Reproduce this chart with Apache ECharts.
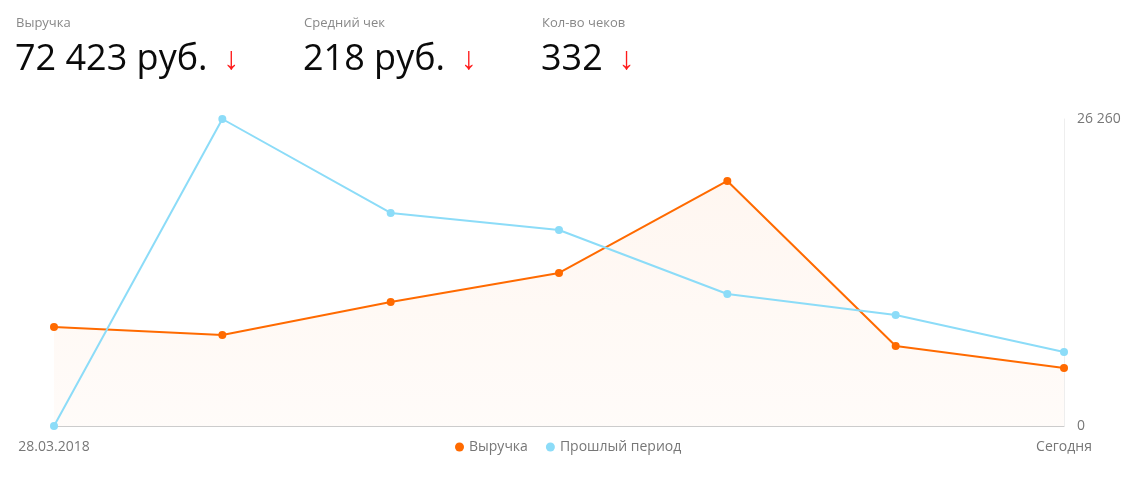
<!DOCTYPE html>
<html>
<head>
<meta charset="utf-8">
<script src="https://cdn.jsdelivr.net/npm/echarts@6/dist/echarts.min.js"></script>
<style>
html,body{margin:0;padding:0;background:#fff;}
#chart{width:1145px;height:487px;}
</style>
</head>
<body>
<div id="chart"></div>
<script>
const categories = ['28.03.2018','29.03.2018','30.03.2018','31.03.2018','01.04.2018','02.04.2018','Сегодня'];
const revenue = [8470, 7780, 10610, 13090, 20960, 6840, 4960];
const previous = [0, 26260, 18220, 16770, 11290, 9500, 6330];
const yTicks = [0, 26260];
const kpiLabels = ['Выручка', 'Средний чек', 'Кол-во чеков'];
const kpiValues = ['72 423 руб.', '218 руб.', '332'];
const seriesNames = ['Выручка', 'Прошлый период'];

const kpiX = [16, 304, 542];
const titles = [];
kpiLabels.forEach((l, i) => {
  titles.push({
    text: l, left: kpiX[i], top: 15, padding: 0,
    textStyle: {fontFamily: 'Open Sans', fontSize: 13, fontWeight: 'normal', color: '#888', lineHeight: 16}
  });
  titles.push({
    text: '{v|' + kpiValues[i] + '}{a|↓}', left: kpiX[i] - 1, top: 39, padding: 0,
    textStyle: {
      fontWeight: 'normal',
      rich: {
        v: {fontFamily: 'Open Sans', fontSize: 36, fontWeight: 'normal', color: '#0a0a0a', lineHeight: 42},
        a: {fontFamily: 'Open Sans', fontSize: 32, fontWeight: 'normal', color: '#ff1a1a', lineHeight: 42, padding: [0, 0, 0, 16]}
      }
    }
  });
});

const chart = echarts.init(document.getElementById('chart'), null, {renderer: 'canvas'});
chart.setOption({
  backgroundColor: '#fff',
  animation: false,
  title: titles,
  grid: {left: 54, right: 81, top: 119, bottom: 61, containLabel: false},
  legend: {
    data: seriesNames,
    top: 435, left: 450,
    icon: 'circle', itemWidth: 9, itemHeight: 9, itemGap: 18,
    textStyle: {fontFamily: 'Open Sans', fontSize: 14, color: '#777'}
  },
  xAxis: {
    type: 'category', data: categories, boundaryGap: false,
    axisLine: {show: true, lineStyle: {color: '#cccccc', width: 1}},
    axisTick: {show: false},
    splitLine: {show: false},
    axisLabel: {
      interval: (idx) => idx === 0 || idx === categories.length - 1,
      fontFamily: 'Open Sans', fontSize: 14, color: '#777', margin: 14
    }
  },
  yAxis: {
    type: 'value', position: 'right', min: yTicks[0], max: yTicks[1], interval: yTicks[1] - yTicks[0],
    axisLine: {show: true, lineStyle: {color: '#eeeeee', width: 1}},
    axisTick: {show: false},
    splitLine: {show: false},
    axisLabel: {
      fontFamily: 'Open Sans', fontSize: 14, color: '#777', margin: 13,
      formatter: (v) => String(v).replace(/\B(?=(\d{3})+(?!\d))/g, ' ')
    }
  },
  series: [
    {
      name: seriesNames[0], type: 'line', data: revenue,
      symbol: 'circle', symbolSize: 8, showSymbol: true,
      itemStyle: {color: '#ff6a00'},
      lineStyle: {color: '#ff6a00', width: 2},
      areaStyle: {color: new echarts.graphic.LinearGradient(0, 0, 0, 1, [
        {offset: 0, color: 'rgba(255,120,30,0.09)'},
        {offset: 1, color: 'rgba(255,120,30,0.04)'}
      ])},
      z: 2
    },
    {
      name: seriesNames[1], type: 'line', data: previous,
      symbol: 'circle', symbolSize: 8, showSymbol: true,
      itemStyle: {color: '#8cdcf8'},
      lineStyle: {color: '#8cdcf8', width: 2},
      z: 3
    }
  ]
});
</script>
</body>
</html>
